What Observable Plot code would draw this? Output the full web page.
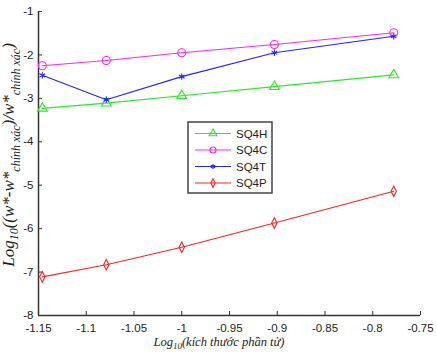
<!DOCTYPE html>
<html><head><meta charset="utf-8">
<script src="https://cdn.jsdelivr.net/npm/d3@7"></script>
<script src="https://cdn.jsdelivr.net/npm/@observablehq/plot@0.6"></script>
<style>
body{margin:0;background:#fff;}
#chart{position:absolute;left:0;top:0;}
</style></head>
<body><div id="chart"></div>
<script>
const xVals = [-1.146, -1.079, -1.0, -0.903, -0.778];
const sq4h = [-3.23, -3.11, -2.94, -2.73, -2.46];
const sq4c = [-2.25, -2.13, -1.95, -1.76, -1.49];
const sq4t = [-2.47, -3.03, -2.50, -1.95, -1.57];
const sq4p = [-7.11, -6.83, -6.43, -5.87, -5.14];
const seriesNames = ["SQ4H", "SQ4C", "SQ4T", "SQ4P"];
const seriesColors = ["#22ee22", "#ff22ff", "#2222ff", "#ff2222"];
const xTicks = [-1.15, -1.1, -1.05, -1, -0.95, -0.9, -0.85, -0.8, -0.75];
const yTicks = [-8, -7, -6, -5, -4, -3, -2, -1];

const tallDiamond = {draw(ctx, size){ const w = Math.sqrt(size)*0.3, h = Math.sqrt(size)*0.6;
  ctx.moveTo(0,-h); ctx.lineTo(w,0); ctx.lineTo(0,h); ctx.lineTo(-w,0); ctx.closePath(); }};
const seriesSymbols = ["triangle", "circle", "asterisk", tallDiamond];
const seriesR = [3.6, 4.0, 3.0, 5.0];
const legendR = [2.9, 3.0, 2.4, 4.0];

const allVals = [sq4h, sq4c, sq4t, sq4p];
const data = [];
allVals.forEach((vals, i) => vals.forEach((v, j) => data.push({x: xVals[j], y: v, s: seriesNames[i]})));

const W = 437, H = 352, mL = 38, mR = 17, mT = 11, mB = 37;
const pw = W - mL - mR, ph = H - mT - mB;

const marks = [];
seriesNames.forEach((name, i) => {
  const d = data.filter(e => e.s === name);
  marks.push(Plot.line(d, {x: "x", y: "y", stroke: seriesColors[i], strokeWidth: 1.1}));
  marks.push(Plot.dot(d, {x: "x", y: "y", stroke: seriesColors[i], symbol: () => seriesSymbols[i], r: seriesR[i], strokeWidth: 1.1, fill: "none"}));
});

const plot = Plot.plot({
  width: W, height: H,
  marginLeft: mL, marginRight: mR, marginTop: mT, marginBottom: mB,
  style: {fontFamily: "Liberation Sans, Arial, sans-serif", fontSize: "11.5px", color: "#333", background: "#fff"},
  x: {domain: [-1.15, -0.75]},
  y: {domain: [-8, -1]},
  marks: [
    Plot.tickX(xTicks, {x: d => d, insetTop: ph - 4, stroke: "#333"}),
    Plot.tickY(yTicks, {y: d => d, insetRight: pw - 4, stroke: "#333"}),
    Plot.ruleX([-1.15], {stroke: "#333", strokeWidth: 1.5}),
    Plot.ruleY([-8], {stroke: "#333", strokeWidth: 1.5}),
    Plot.axisX({ticks: xTicks, tickSize: 0, tickPadding: 8, tickFormat: d => String(d), label: null, fill: "#222"}),
    Plot.axisY({ticks: yTicks, tickSize: 0, tickPadding: 5, tickFormat: d => String(d), label: null, fill: "#222"}),
    ...marks
  ]
});
document.getElementById("chart").appendChild(plot);

const svg = d3.select(plot);
// legend
const lg = svg.append("g");
lg.append("rect").attr("x", 188).attr("y", 122).attr("width", 84).attr("height", 71)
  .attr("fill", "#fff").attr("stroke", "#444").attr("stroke-width", 1.5);
seriesNames.forEach((name, i) => {
  const yy = 133.5 + i * 16.5;
  lg.append("line").attr("x1", 195).attr("x2", 231).attr("y1", yy).attr("y2", yy)
    .attr("stroke", seriesColors[i]).attr("stroke-width", 1.1);
  const sym = typeof seriesSymbols[i] === "string" ? {triangle: d3.symbolTriangle, circle: d3.symbolCircle, asterisk: d3.symbolAsterisk}[seriesSymbols[i]] : seriesSymbols[i];
  const r = legendR[i];
  lg.append("path").attr("d", d3.symbol(sym, r * r * Math.PI)()).attr("transform", `translate(213,${yy})`)
    .attr("fill", "none").attr("stroke", seriesColors[i]).attr("stroke-width", 1.1);
  lg.append("text").attr("x", 236).attr("y", yy).attr("dy", "0.35em").attr("text-anchor", "start").text(name)
    .attr("font-family", "Liberation Sans, Arial, sans-serif").attr("font-size", 11.5).attr("fill", "#222");
});

// x label
const xl = svg.append("text").attr("x", 219).attr("y", 346).attr("text-anchor", "middle")
  .attr("font-family", "Liberation Serif, Times New Roman, serif").attr("font-style", "italic")
  .attr("font-size", 12.5).attr("fill", "#222");
xl.append("tspan").text("Log");
xl.append("tspan").text("10").attr("font-size", 9).attr("dy", 3);
xl.append("tspan").text("(kích thước phần tử)").attr("dy", -3);

// y label
const yg = svg.append("g").attr("transform", "translate(14,155) rotate(-90)");
const yl = yg.append("text").attr("text-anchor", "middle")
  .attr("font-family", "Liberation Serif, Times New Roman, serif").attr("font-style", "italic")
  .attr("font-size", 17).attr("fill", "#222");
yl.append("tspan").text("Log");
yl.append("tspan").text("10").attr("font-size", 12).attr("dy", 4);
yl.append("tspan").text("((w*-w*").attr("dy", -4);
yl.append("tspan").text("chính xác").attr("font-size", 12).attr("dy", 6);
yl.append("tspan").text(")/w*").attr("dy", -6);
yl.append("tspan").text("chính xác").attr("font-size", 12).attr("dy", 6);
yl.append("tspan").text(")").attr("dy", -6);
</script>
</body></html>
